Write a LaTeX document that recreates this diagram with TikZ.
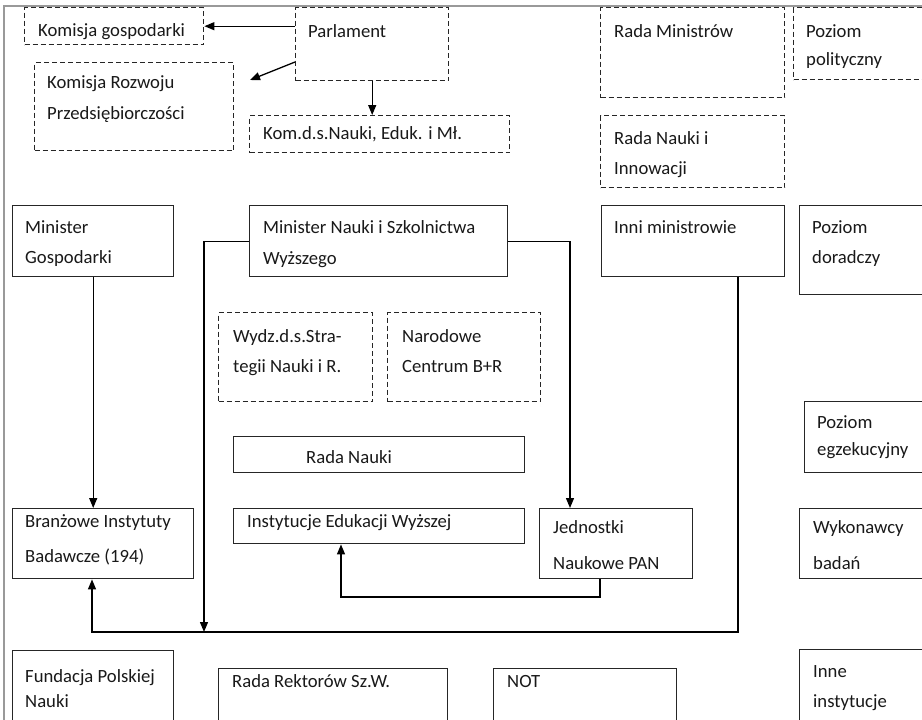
\documentclass[tikz,border=0pt]{standalone}
\usepackage{fontspec}
\setmainfont{Carlito}
\usetikzlibrary{arrows.meta,calc}
\newcommand\bxx[6][]{\node[bx,#1,minimum width=#5pt,minimum height=#6pt] (#2) at (#3,#4) {};}
\newcommand\lne[4]{\node[tx] (#1) at ([shift={(#3)}]#2.north west) {#4};}
\begin{document}
\begin{tikzpicture}[x=1pt,y=-1pt,
  bx/.style={draw=black!85, line width=1.4pt, anchor=north west, inner sep=0pt},
  dsh/.style={dash pattern=on 5pt off 3pt},
  tx/.style={anchor=base west, inner sep=0pt, text=black!90, font=\fontsize{18.67}{22}\selectfont},
  arr/.style={draw=black, line width=1.3pt, -{Triangle[length=10pt,width=8pt]}},
  ln/.style={draw=black, line width=1.3pt}]
\useasboundingbox (0,0) rectangle (922,720);
\clip (0,0) rectangle (922,720);
\fill[white] (0,0) rectangle (922,720);
% frame
\draw[draw=black!40, line width=1.5pt] (4,722) -- (4,6) -- (925,6);
% boxes
\bxx[dsh]{kg}{24}{7}{179}{37}
\bxx[dsh]{krp}{34}{62}{199}{88}
\bxx[dsh]{parl}{295}{7}{153}{73}
\bxx[dsh]{kom}{249}{115}{260}{37}
\bxx[dsh]{rm}{600}{7}{184}{90}
\bxx[dsh]{pp}{793}{7}{140}{72}
\bxx[dsh]{rni}{600}{115}{184}{72}
\bxx{mg}{12}{205}{161}{71}
\bxx{mn}{249}{205}{258}{71}
\bxx{inni}{601}{205}{183}{71}
\bxx{pd}{799}{205}{140}{89}
\bxx[dsh]{wyd}{218}{312}{154}{89}
\bxx[dsh]{nc}{387}{312}{153}{89}
\bxx{pe}{804}{401}{140}{71}
\bxx{rn}{233}{436}{291}{36}
\bxx{br}{12}{508}{181}{70}
\bxx{ins}{233}{508}{291}{35}
\bxx{jed}{539}{508}{153}{70}
\bxx{wb}{799}{508}{140}{70}
\bxx{fpn}{12}{650}{161}{100}
\bxx{rr}{218}{668}{229}{100}
\bxx{not}{493}{668}{183}{100}
\bxx{ii}{799}{649}{140}{100}
% texts
\lne{kgt}{kg}{14,29}{Komisja gospodarki}
\lne{krpa}{krp}{13,26}{Komisja Rozwoju}
\lne{krpb}{krp}{13,57}{Przedsiębiorczości}
\lne{parlt}{parl}{13,30}{Parlament}
\lne{komt}{kom}{14,24}{Kom.d.s.Nauki, Eduk. i Mł.}
\lne{rmt}{rm}{14,30}{Rada Ministrów}
\lne{ppa}{pp}{13,30}{Poziom}
\lne{ppb}{pp}{13,58}{polityczny}
\lne{rnia}{rni}{14,29}{Rada Nauki i}
\lne{rnib}{rni}{14,59}{Innowacji}
\lne{mga}{mg}{13,28}{Minister}
\lne{mgb}{mg}{13,58}{Gospodarki}
\lne{mna}{mn}{14,28}{Minister Nauki i Szkolnictwa}
\lne{mnb}{mn}{14,59}{Wyższego}
\lne{innit}{inni}{13,28}{Inni ministrowie}
\lne{pda}{pd}{13,28}{Poziom}
\lne{pdb}{pd}{13,58}{doradczy}
\lne{wyda}{wyd}{15,30}{Wydz.d.s.Stra-}
\lne{wydb}{wyd}{15,60}{tegii Nauki i R.}
\lne{nca}{nc}{15,30}{Narodowe}
\lne{ncb}{nc}{15,60}{Centrum B+R}
\lne{pea}{pe}{13,27}{Poziom}
\lne{peb}{pe}{13,54}{egzekucyjny}
\lne{rnt}{rn}{73,27}{Rada Nauki}
\lne{bra}{br}{13,19}{Branżowe Instytuty}
\lne{brb}{br}{13,54}{Badawcze (194)}
\lne{inst}{ins}{14,19}{Instytucje Edukacji Wyższej}
\lne{jeda}{jed}{14,25}{Jednostki}
\lne{jedb}{jed}{14,61}{Naukowe PAN}
\lne{wba}{wb}{14,25}{Wykonawcy}
\lne{wbb}{wb}{14,61}{badań}
\lne{fpna}{fpn}{13,32}{Fundacja Polskiej}
\lne{fpnb}{fpn}{13,57}{Nauki}
\lne{rrt}{rr}{14,19}{Rada Rektorów Sz.W.}
\lne{nott}{not}{14,19}{NOT}
\lne{iia}{ii}{14,28}{Inne}
\lne{iib}{ii}{14,58}{instytucje}
% connectors
\coordinate (krfree) at (250,80);
\coordinate (j1) at (204,632);
\coordinate (c2) at (92,632);
\coordinate (c3) at (341,597);
\draw[arr] (parl.west |- kg.east) -- (kg.east);
\draw[arr] ([yshift=-55pt]parl.north west) -- (krfree);
\draw[arr] (parl.south) -- (parl.south |- kom.north);
\draw[arr] (mn.west) -| (j1);
\draw[arr] (mn.east) -| ([xshift=31pt]jed.north west);
\draw[arr] (mg.south) -- (mg.south |- br.north);
\draw[arr] ([xshift=137pt]inni.south west) |- (c2) -- (c2 |- br.south);
\draw[arr] ([xshift=61pt]jed.south west) |- (c3) -- (c3 |- ins.south);
\end{tikzpicture}
\end{document}
